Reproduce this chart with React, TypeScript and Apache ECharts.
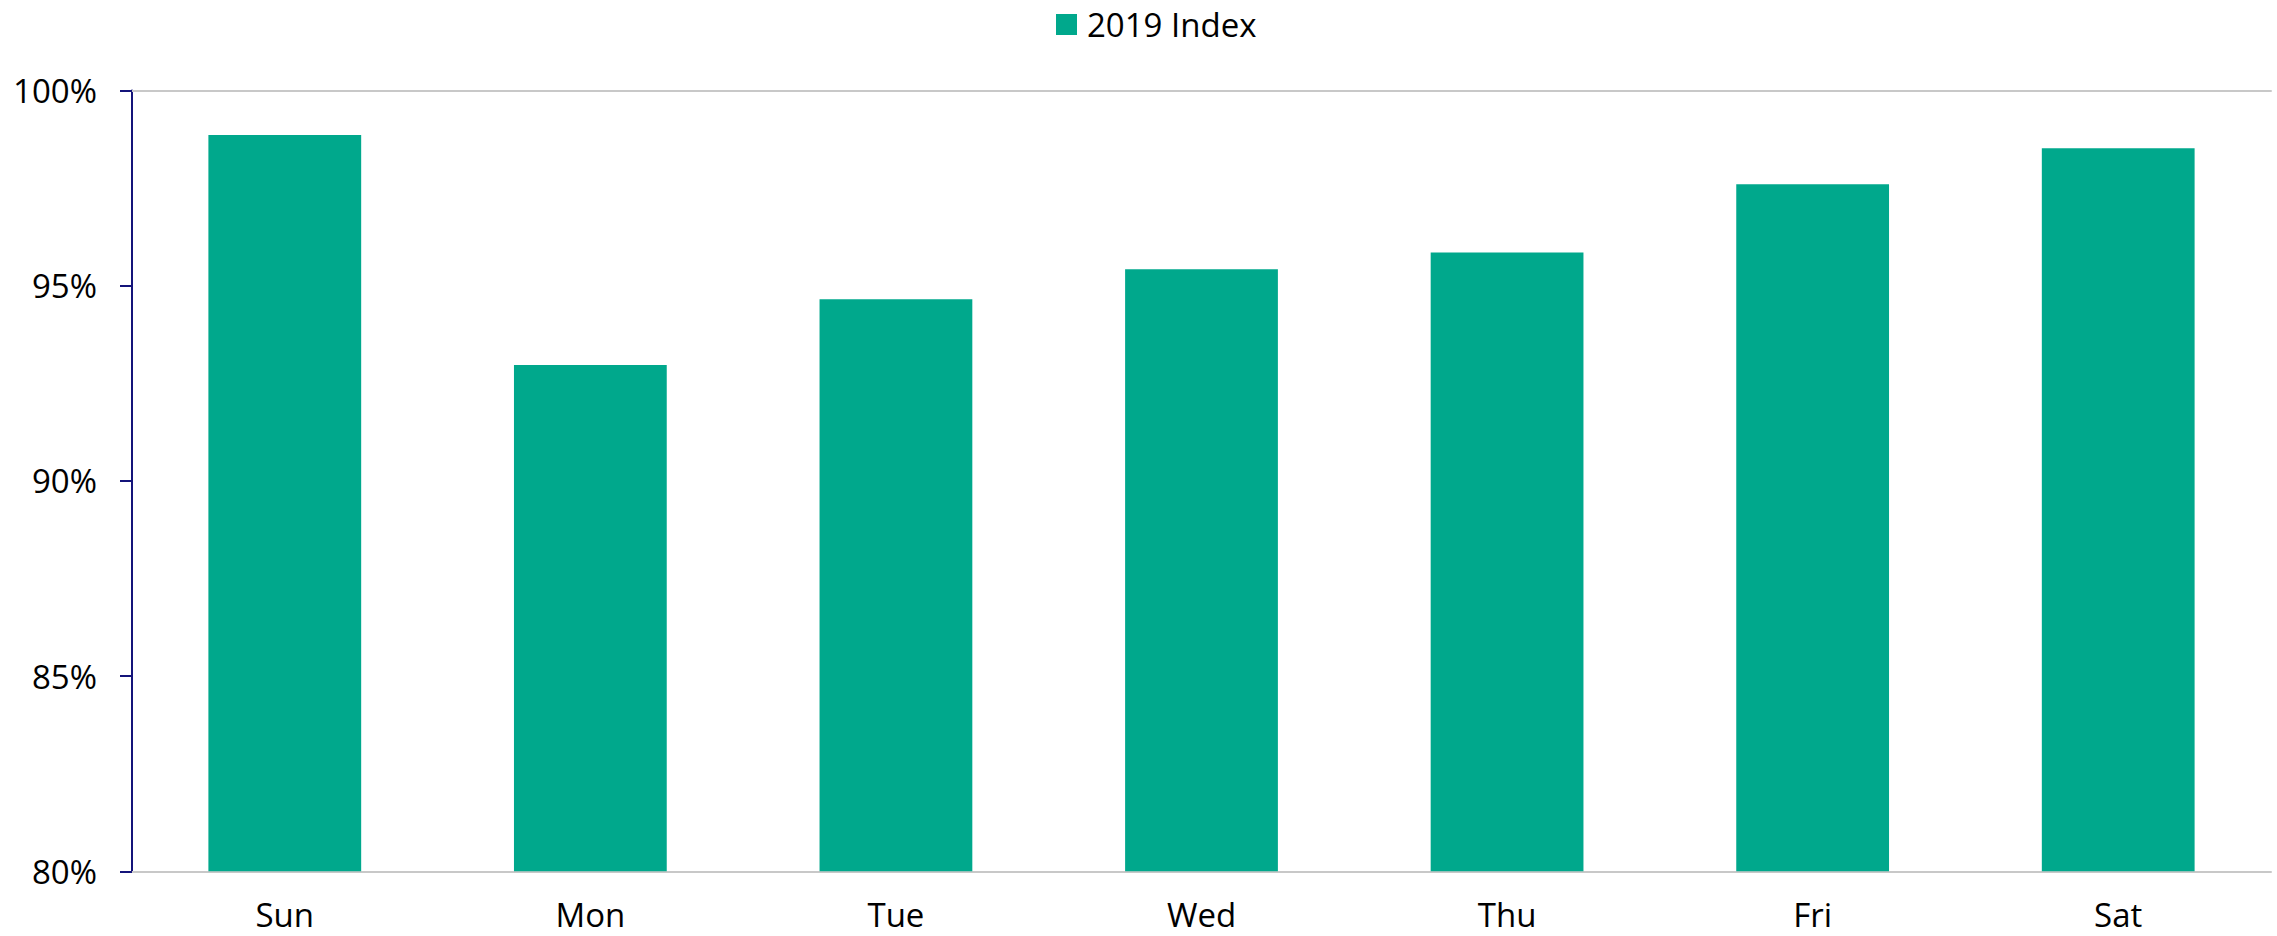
import React, { useEffect, useRef } from "react";
import * as echarts from "echarts";

// Day-of-week index values, in percent
const days = ["Sun", "Mon", "Tue", "Wed", "Thu", "Fri", "Sat"];
const index2019 = [98.86, 92.97, 94.65, 95.42, 95.85, 97.6, 98.52];
const seriesName = "2019 Index";

const FONT = "'Open Sans', 'Liberation Sans', sans-serif";
const BAR_COLOR = "#00A88C";
const AXIS_NAVY = "#14147a";
const RULE_GRAY = "#c8c8c8";

export default function App() {
  const ref = useRef<HTMLDivElement>(null);

  useEffect(() => {
    if (!ref.current) return;
    const chart = echarts.init(ref.current, undefined, { renderer: "svg" });
    chart.setOption({
      animation: false,
      backgroundColor: "#ffffff",
      textStyle: { fontFamily: FONT },
      legend: {
        data: [seriesName],
        left: 1056,
        top: 8,
        padding: 0,
        icon: "rect",
        itemWidth: 21,
        itemHeight: 21,
        itemGap: 10,
        textStyle: {
          fontFamily: FONT,
          fontSize: 33,
          color: "#000000",
          lineHeight: 33,
          padding: [0, 0, 0, 5],
        },
      },
      grid: {
        left: 132,
        right: 6,
        top: 90.5,
        bottom: 64.7,
        containLabel: false,
      },
      xAxis: [
        {
          type: "category",
          data: days,
          position: "bottom",
          axisLine: { show: true, lineStyle: { color: RULE_GRAY, width: 2 } },
          axisTick: { show: false },
          axisLabel: {
            color: "#000000",
            fontSize: 33,
            fontFamily: FONT,
            margin: 27,
          },
          splitLine: { show: false },
        },
        {
          // top rule of the plot area
          type: "category",
          data: days,
          position: "top",
          axisLine: { show: true, lineStyle: { color: RULE_GRAY, width: 2 } },
          axisTick: { show: false },
          axisLabel: { show: false },
          splitLine: { show: false },
        },
      ],
      yAxis: {
        type: "value",
        min: 80,
        max: 100,
        interval: 5,
        axisLine: { show: true, lineStyle: { color: AXIS_NAVY, width: 2 } },
        axisTick: {
          show: true,
          inside: false,
          length: 12,
          lineStyle: { color: AXIS_NAVY, width: 2 },
        },
        axisLabel: {
          color: "#000000",
          fontSize: 33,
          fontFamily: FONT,
          margin: 35,
          formatter: "{value}%",
        },
        splitLine: { show: false },
      },
      series: [
        {
          name: seriesName,
          type: "bar",
          data: index2019,
          xAxisIndex: 0,
          barCategoryGap: "50%",
          itemStyle: { color: BAR_COLOR },
        },
      ],
    });
    return () => chart.dispose();
  }, []);

  return (
    <div
      ref={ref}
      style={{ position: "fixed", left: 0, top: 0, width: 2277, height: 936 }}
    />
  );
}
